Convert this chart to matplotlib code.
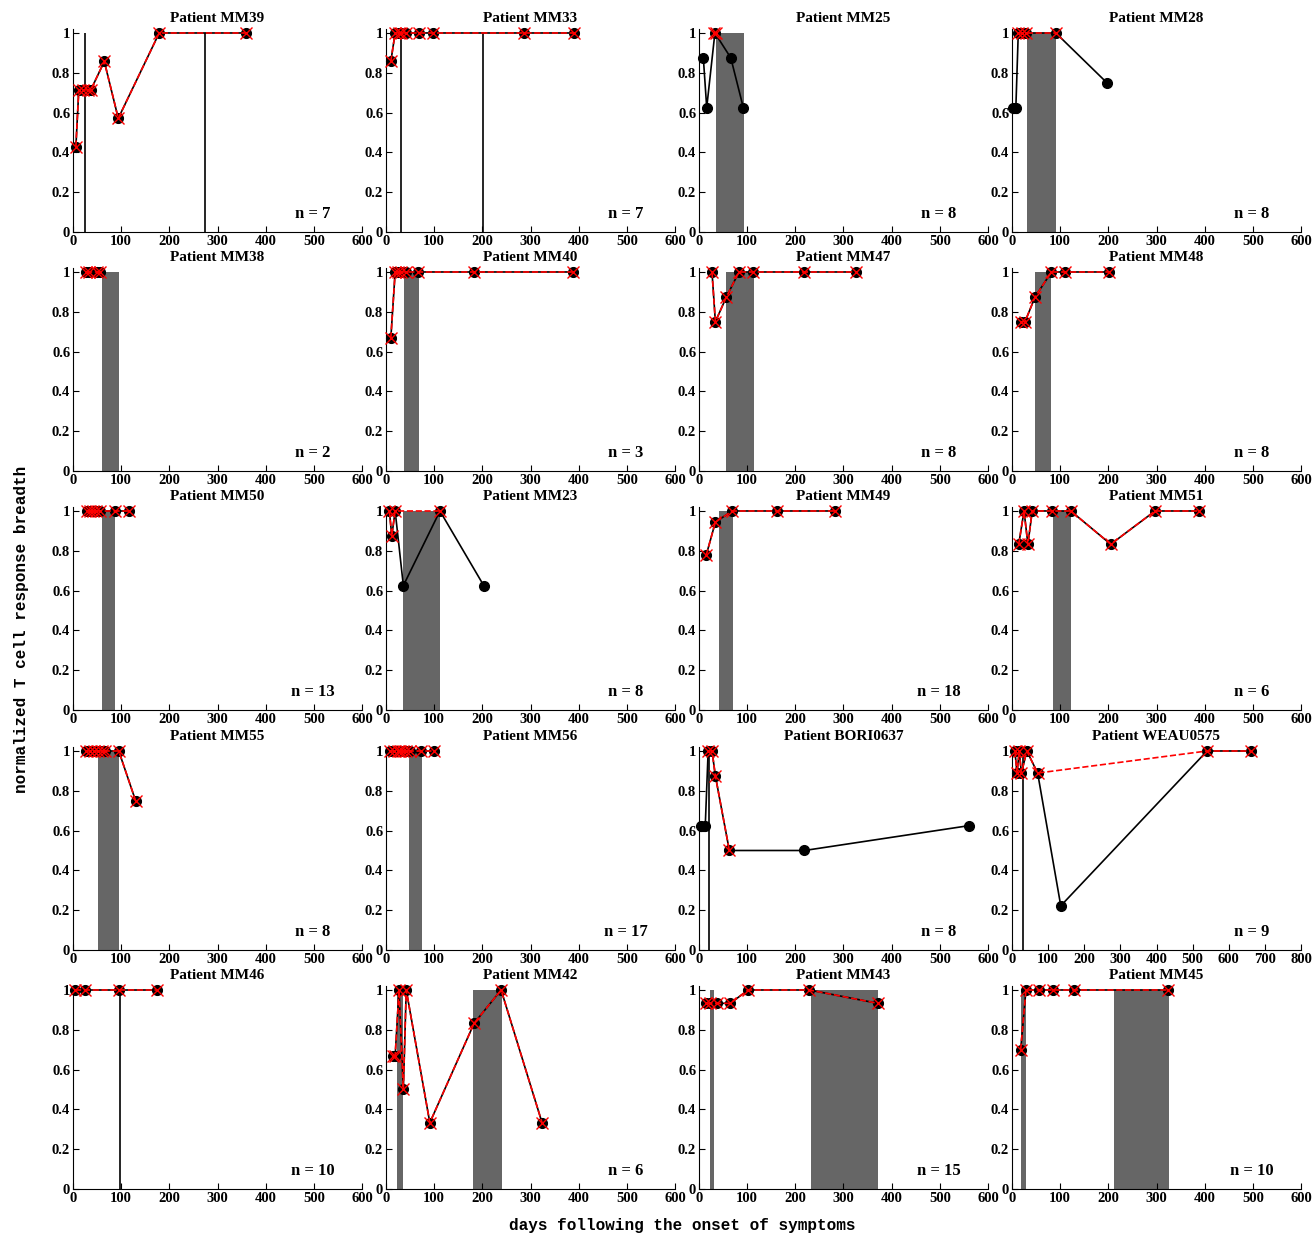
import matplotlib
matplotlib.use('Agg')
import matplotlib.pyplot as plt
from matplotlib.ticker import FuncFormatter

plt.rcParams['font.family'] = ['Liberation Serif', 'DejaVu Serif']
plt.rcParams['font.weight'] = 'bold'

# one entry per panel, row by row
patients = ['MM39', 'MM33', 'MM25', 'MM28',
            'MM38', 'MM40', 'MM47', 'MM48',
            'MM50', 'MM23', 'MM49', 'MM51',
            'MM55', 'MM56', 'BORI0637', 'WEAU0575',
            'MM46', 'MM42', 'MM43', 'MM45']

n_values = [7, 7, 8, 8,
            2, 3, 8, 8,
            13, 8, 18, 6,
            8, 17, 8, 9,
            10, 6, 15, 10]

x_max = [600, 600, 600, 600,
         600, 600, 600, 600,
         600, 600, 600, 600,
         600, 600, 600, 800,
         600, 600, 600, 600]

# black series (circles)
black_days = [
    [6, 12, 21, 31, 37, 65, 94, 179, 360],
    [10, 19, 26, 32, 41, 69, 97, 287, 391],
    [9, 16, 33, 66, 92],
    [3, 8, 13, 20, 30, 91, 197],
    [27, 33, 50, 57],
    [10, 19, 25, 32, 41, 66, 183, 388],
    [27, 34, 57, 83, 112, 219, 326],
    [18, 27, 48, 82, 110, 201],
    [30, 36, 41, 48, 57, 88, 116],
    [7, 12, 19, 36, 112, 203],
    [15, 34, 69, 161, 282],
    [14, 25, 33, 42, 83, 122, 205, 297, 388],
    [27, 36, 44, 52, 61, 67, 95, 130],
    [8, 17, 24, 30, 36, 42, 49, 73, 100],
    [5, 13, 19, 27, 34, 63, 219, 561],
    [8, 14, 20, 26, 41, 71, 135, 540, 662],
    [4, 24, 96, 175],
    [15, 19, 27, 36, 42, 91, 183, 239, 324],
    [15, 23, 38, 65, 102, 229, 371],
    [18, 29, 57, 85, 128, 324],
]
black_vals = [
    [0.429, 0.714, 0.714, 0.714, 0.714, 0.857, 0.571, 1, 1],
    [0.857, 1, 1, 1, 1, 1, 1, 1, 1],
    [0.875, 0.625, 1, 0.875, 0.625],
    [0.625, 0.625, 1, 1, 1, 1, 0.75],
    [1, 1, 1, 1],
    [0.667, 1, 1, 1, 1, 1, 1, 1],
    [1, 0.75, 0.875, 1, 1, 1, 1],
    [0.75, 0.75, 0.875, 1, 1, 1],
    [1, 1, 1, 1, 1, 1, 1],
    [1, 0.875, 1, 0.625, 1, 0.625],
    [0.778, 0.944, 1, 1, 1],
    [0.833, 1, 0.833, 1, 1, 1, 0.833, 1, 1],
    [1, 1, 1, 1, 1, 1, 1, 0.75],
    [1, 1, 1, 1, 1, 1, 1, 1, 1],
    [0.625, 0.625, 1, 1, 0.875, 0.5, 0.5, 0.625],
    [1, 0.889, 1, 0.889, 1, 0.889, 0.222, 1, 1],
    [1, 1, 1, 1],
    [0.667, 0.667, 1, 0.5, 1, 0.333, 0.833, 1, 0.333],
    [0.933, 0.933, 0.933, 0.933, 1, 1, 0.933],
    [0.7, 1, 1, 1, 1, 1],
]

# red series (dashed, crosses)
red_days = [
    [6, 12, 21, 31, 37, 65, 94, 179, 360],
    [10, 19, 26, 32, 41, 69, 97, 287, 391],
    [31, 35],
    [13, 20, 30, 91],
    [27, 33, 50, 57],
    [10, 19, 25, 32, 41, 66, 183, 388],
    [27, 34, 57, 83, 112, 219, 326],
    [18, 27, 48, 82, 110, 201],
    [30, 36, 41, 48, 57, 88, 116],
    [7, 12, 19, 112],
    [15, 34, 69, 161, 282],
    [14, 25, 33, 42, 83, 122, 205, 297, 388],
    [27, 36, 44, 52, 61, 67, 95, 130],
    [8, 17, 24, 30, 36, 42, 49, 73, 100],
    [19, 27, 34, 63],
    [8, 14, 20, 26, 41, 71, 540, 662],
    [4, 24, 96, 175],
    [15, 19, 27, 36, 42, 91, 183, 239, 324],
    [15, 23, 38, 65, 102, 229, 371],
    [18, 29, 57, 85, 128, 324],
]
red_vals = [
    [0.429, 0.714, 0.714, 0.714, 0.714, 0.857, 0.571, 1, 1],
    [0.857, 1, 1, 1, 1, 1, 1, 1, 1],
    [1, 1],
    [1, 1, 1, 1],
    [1, 1, 1, 1],
    [0.667, 1, 1, 1, 1, 1, 1, 1],
    [1, 0.75, 0.875, 1, 1, 1, 1],
    [0.75, 0.75, 0.875, 1, 1, 1],
    [1, 1, 1, 1, 1, 1, 1],
    [1, 0.875, 1, 1],
    [0.778, 0.944, 1, 1, 1],
    [0.833, 1, 0.833, 1, 1, 1, 0.833, 1, 1],
    [1, 1, 1, 1, 1, 1, 1, 0.75],
    [1, 1, 1, 1, 1, 1, 1, 1, 1],
    [1, 1, 0.875, 0.5],
    [1, 0.889, 1, 0.889, 1, 0.889, 1, 1],
    [1, 1, 1, 1],
    [0.667, 0.667, 1, 0.5, 1, 0.333, 0.833, 1, 0.333],
    [0.933, 0.933, 0.933, 0.933, 1, 1, 0.933],
    [0.7, 1, 1, 1, 1, 1],
]

# gray periods (start, end) in days
gray_spans = [
    [], [], [(35, 93)], [(31, 91)],
    [(60, 95)], [(38, 68)], [(57, 115)], [(48, 82)],
    [(60, 87)], [(36, 112)], [(42, 71)], [(85, 122)],
    [(51, 95)], [(47, 75)], [], [],
    [], [(22, 36), (181, 240)], [(22, 32), (232, 372)], [(18, 29), (212, 326)],
]

# vertical markers (days)
vert_lines = [
    [24, 275], [32, 201], [], [],
    [], [], [], [],
    [], [], [], [],
    [], [], [21], [30],
    [98], [], [], [],
]

fig = plt.figure(figsize=(13.15, 12.35), dpi=100)

left0 = 73 / 1315
col_step = 313 / 1315
width = 289 / 1315
height = 203 / 1235
row_bottom = [(1235 - 232) / 1235, (1235 - 471) / 1235, (1235 - 710) / 1235,
              (1235 - 950) / 1235, (1235 - 1189) / 1235]

for i, name in enumerate(patients):
    r, c = divmod(i, 4)
    ax = fig.add_axes([left0 + c * col_step, row_bottom[r], width, height])

    for s, e in gray_spans[i]:
        ax.bar(s, 1, width=e - s, align='edge', color='#666666', zorder=1)
    for v in vert_lines[i]:
        ax.vlines(v, 0, 1, color='black', linewidth=1.2, zorder=2)

    ax.plot(black_days[i], black_vals[i], color='black', marker='o',
            markersize=7, linewidth=1.2, zorder=3, clip_on=False)
    ax.plot(red_days[i], red_vals[i], color='red', linestyle='--', marker='x',
            markersize=8.5, markeredgewidth=1.0, linewidth=1.2, zorder=4,
            clip_on=False)

    ax.set_xlim(0, x_max[i])
    ax.set_ylim(0, 1.02)
    ax.set_xticks(range(0, x_max[i] + 1, 100))
    ax.set_yticks([0, 0.2, 0.4, 0.6, 0.8, 1])
    ax.yaxis.set_major_formatter(FuncFormatter(lambda v, p: f'{v:g}'))
    ax.spines['top'].set_visible(False)
    ax.spines['right'].set_visible(False)
    ax.tick_params(direction='in', length=4, labelsize=10.5, pad=2)
    for lab in ax.get_xticklabels() + ax.get_yticklabels():
        lab.set_fontweight('bold')

    ax.set_title('Patient ' + name, fontsize=11, fontweight='bold', pad=5)
    ax.text(0.83, 0.09, f'n = {n_values[i]}', transform=ax.transAxes,
            ha='center', va='center', fontsize=12, fontweight='bold')

fig.text(0.016, 0.49, 'normalized T cell response breadth', rotation=90,
         ha='center', va='center', fontsize=11.5, fontweight='bold',
         family=['Liberation Mono', 'DejaVu Sans Mono'])
fig.text(0.519, 0.002, 'days following the onset of symptoms',
         ha='center', va='bottom', fontsize=11.5, fontweight='bold',
         family=['Liberation Mono', 'DejaVu Sans Mono'])

plt.savefig('out.png', dpi=100)
